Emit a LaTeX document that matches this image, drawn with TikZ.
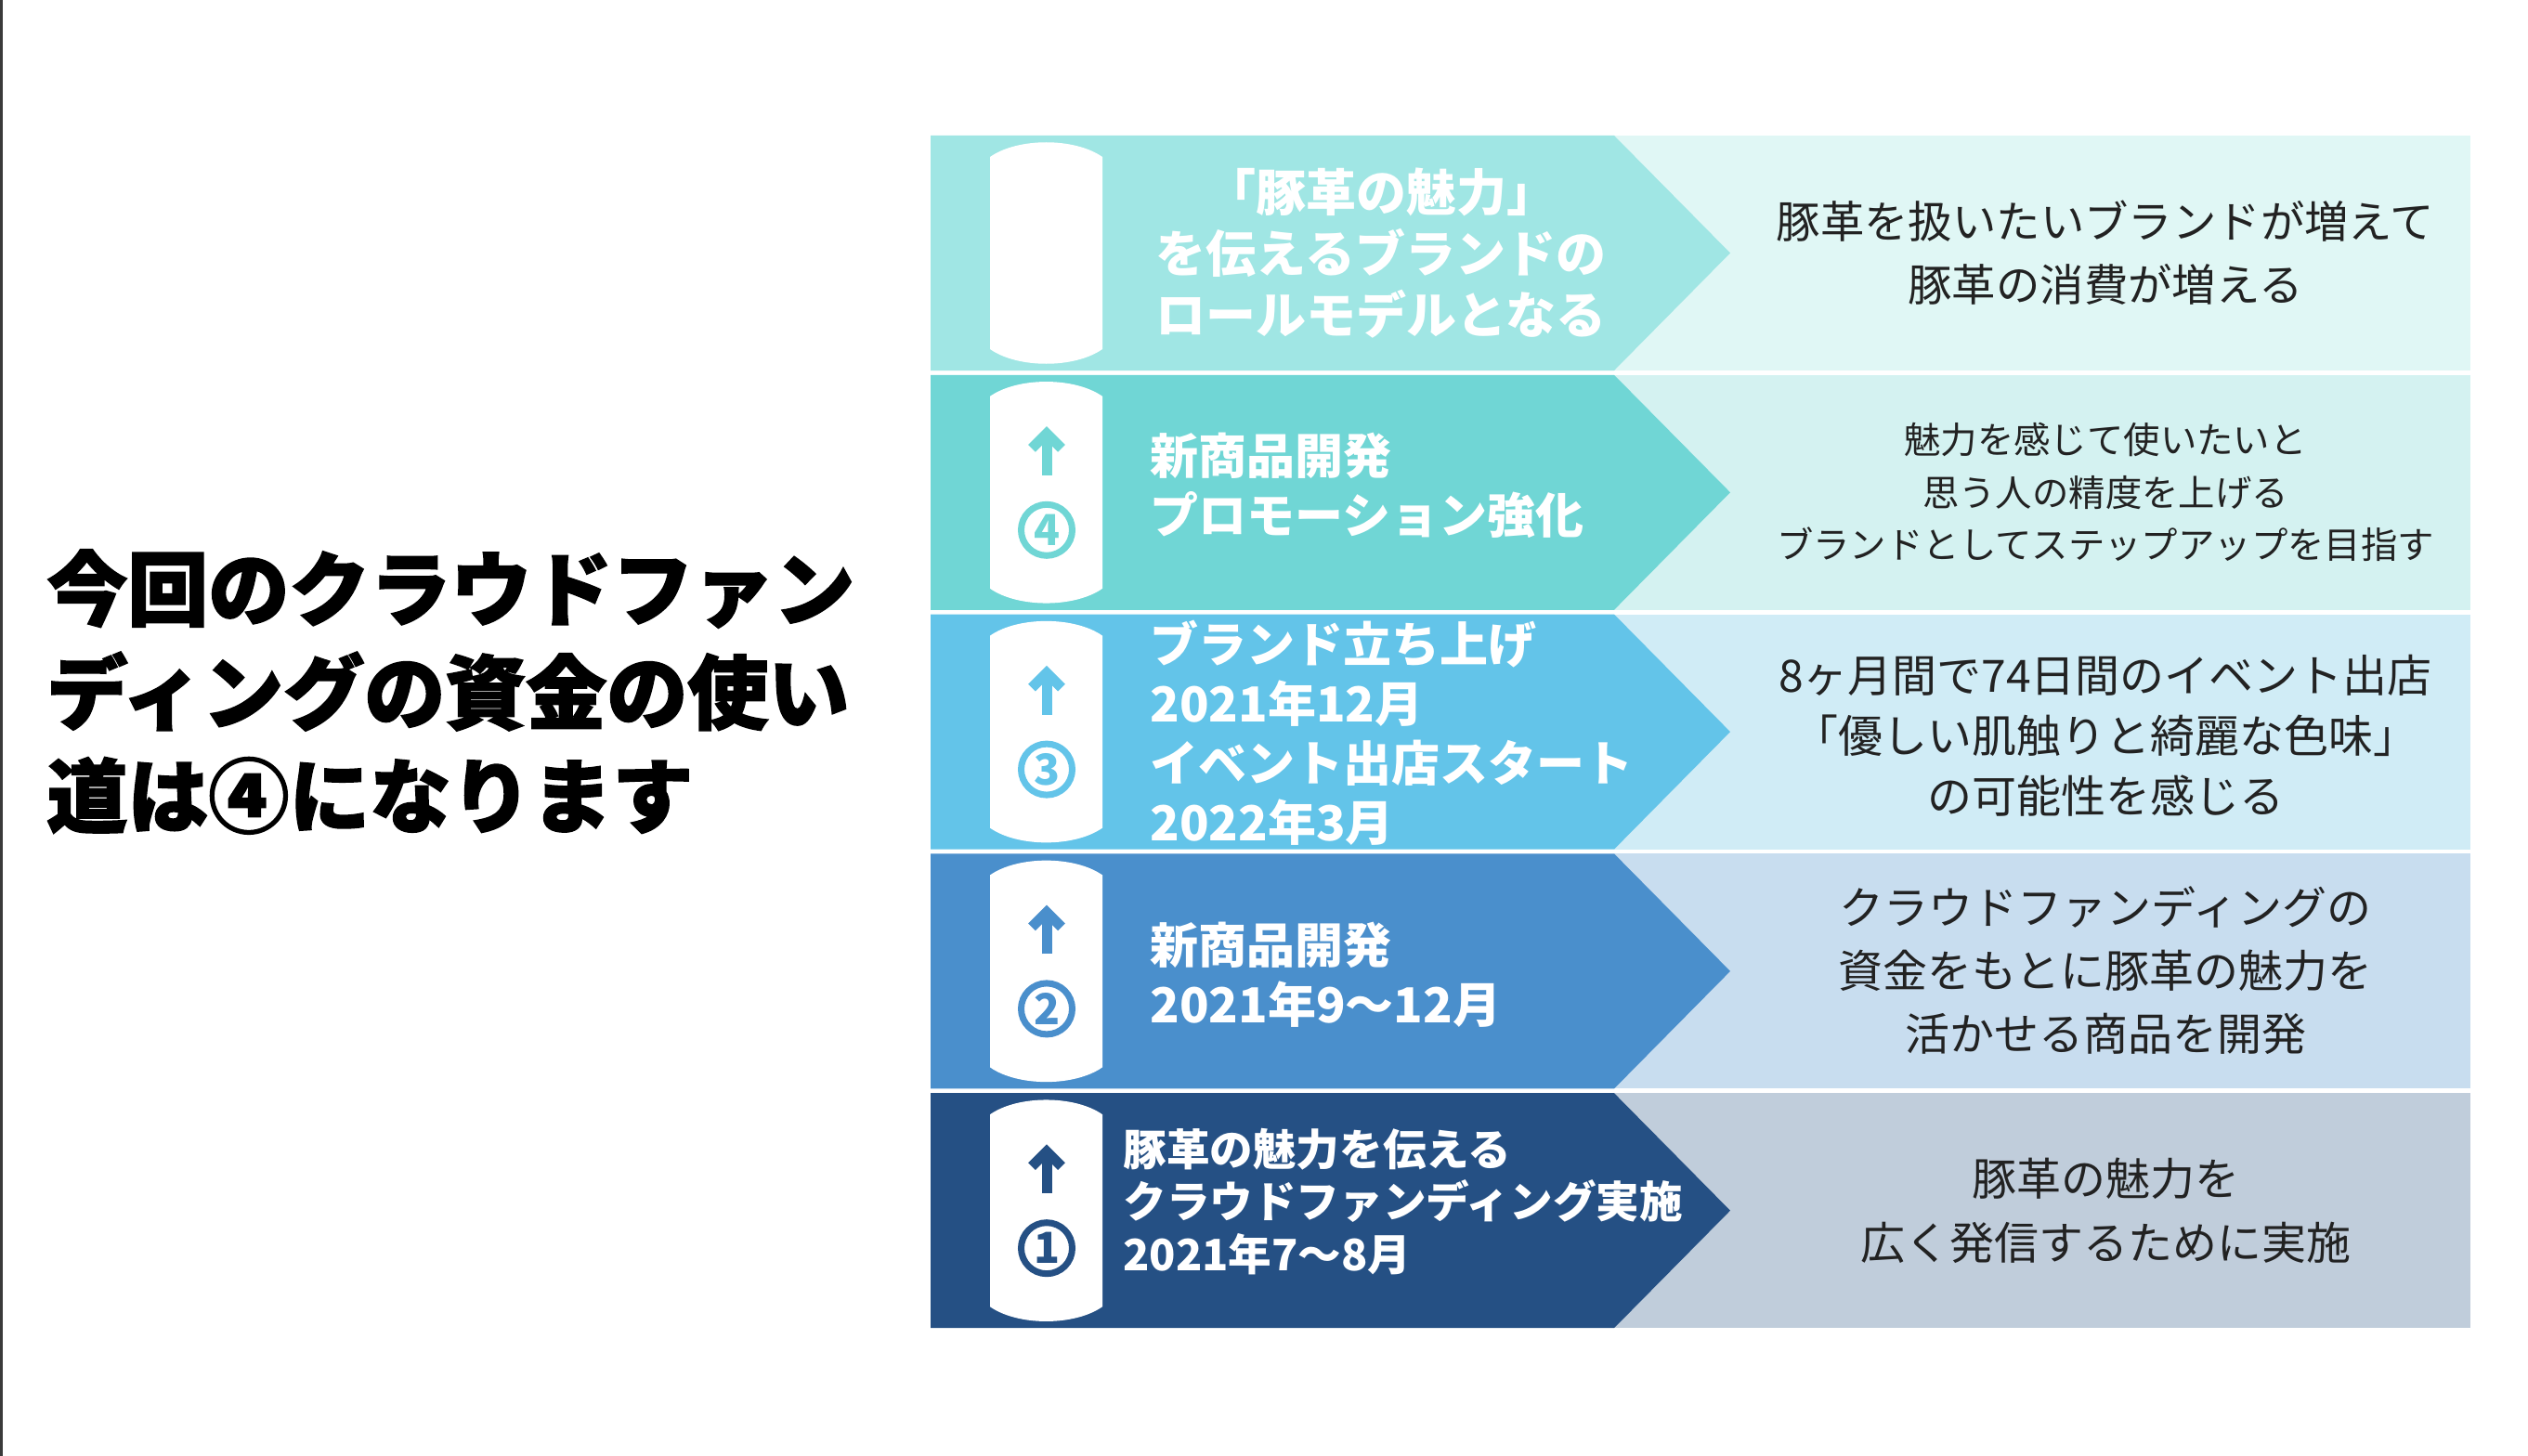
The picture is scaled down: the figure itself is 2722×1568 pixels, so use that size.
\documentclass[tikz,border=0pt]{standalone}
\usepackage{fontspec}
\setmainfont{Noto Sans CJK JP}
\newfontfamily\jp{Noto Sans CJK JP}
\newfontfamily\jpheavy{Noto Sans CJK JP}[BoldFeatures={FakeBold=2}]
\definecolor{mA}{HTML}{A0E6E4}\definecolor{lA}{HTML}{E0F7F5}
\definecolor{mB}{HTML}{70D6D5}\definecolor{lB}{HTML}{D4F2F1}
\definecolor{mC}{HTML}{63C4E9}\definecolor{lC}{HTML}{D0ECF6}
\definecolor{mD}{HTML}{4A8FCC}\definecolor{lD}{HTML}{C8DDEF}
\definecolor{mE}{HTML}{255084}\definecolor{lE}{HTML}{C0CDDB}
\definecolor{txt}{HTML}{222222}
\definecolor{edge}{HTML}{3A3A3A}
\tikzset{
  wtxt/.style={text=white, inner sep=0pt, font=\jp\bfseries\fontsize{26}{32}\selectfont},
  rtxt/.style={text=txt, inner sep=0pt, align=center},
}
\begin{document}
\begin{tikzpicture}[x=0.5pt,y=-0.5pt]
\fill[white] (0,0) rectangle (2722,1568);
\fill[edge] (0,0) rectangle (3,1568);
\useasboundingbox (0,0) rectangle (2722,1568);
\foreach \k/\m/\l in {0/mA/lA,1/mB/lB,2/mC/lC,3/mD/lD,4/mE/lE}{
  \pgfmathsetmacro\t{146+257.8*\k}
  \pgfmathsetmacro\b{\t+253}
  \pgfmathsetmacro\c{\t+126.5}
  \fill[\l] (1738,\t) rectangle (2660,\b);
  \fill[\m] (1002,\t) -- (1738,\t) -- (1863,\c) -- (1738,\b) -- (1002,\b) -- cycle;
  \fill[white] (1066,\t+23) .. controls (1096,\t+2) and (1157,\t+2) .. (1187,\t+23)
     -- (1187,\b-23) .. controls (1157,\b-2) and (1096,\b-2) .. (1066,\b-23) -- cycle;
}
\foreach \k/\m/\n in {1/mB/4,2/mC/3,3/mD/2,4/mE/1}{
  \pgfmathsetmacro\t{146+257.8*\k}
  \coordinate (ab\n) at (1127,\t+108);
  \coordinate (at\n) at (1127,\t+64);
  \draw[\m, line width=5.5pt] (ab\n) -- (at\n);
  \draw[\m, line width=5.5pt, line join=miter] (1111,\t+79) -- (1127,\t+63) -- (1143,\t+79);
  \node[circle, draw=\m, line width=3.5pt, minimum size=27.5pt, inner sep=0pt, text=\m,
        font=\jp\bfseries\fontsize{23}{23}\selectfont] (num\n) at (1127,\t+167) {\n};
}
% title
\node[anchor=west, inner sep=0pt, align=left,
      font=\jpheavy\bfseries\fontsize{43.5}{55.75}\selectfont] (title) at (50,745)
  {今回のクラウドファン\\ディングの資金の使い\\道は④になります};
% white texts
\node[wtxt, align=center, font=\jp\bfseries\fontsize{27}{33}\selectfont] (w1) at (1487,273)
  {「豚革の魅力」\\を伝えるブランドの\\ロールモデルとなる};
\node[wtxt, align=left, anchor=west] (w2) at (1238,523) {新商品開発\\プロモーション強化};
\node[wtxt, align=left, anchor=west] (w3) at (1238,789) {ブランド立ち上げ\\2021年12月\\イベント出店スタート\\2022年3月};
\node[wtxt, align=left, anchor=west] (w4) at (1238,1050) {新商品開発\\2021年9〜12月};
\node[wtxt, align=left, anchor=west, font=\jp\bfseries\fontsize{23.3}{28.25}\selectfont] (w5) at (1209,1294)
  {豚革の魅力を伝える\\クラウドファンディング実施\\2021年7〜8月};
% right texts
\node[rtxt, font=\jp\fontsize{23.7}{34}\selectfont] (r1) at (2267,272)
  {豚革を扱いたいブランドが増えて\\豚革の消費が増える};
\node[rtxt, font=\jp\fontsize{19.7}{28.25}\selectfont] (r2) at (2267,530)
  {魅力を感じて使いたいと\\思う人の精度を上げる\\ブランドとしてステップアップを目指す};
\node[rtxt, font=\jp\fontsize{24}{32.5}\selectfont] (r3) at (2267,792)
  {8ヶ月間で74日間のイベント出店\\「優しい肌触りと綺麗な色味」\\の可能性を感じる};
\node[rtxt, font=\jp\fontsize{24}{34}\selectfont] (r4) at (2267,1045)
  {クラウドファンディングの\\資金をもとに豚革の魅力を\\活かせる商品を開発};
\node[rtxt, font=\jp\fontsize{24}{34.5}\selectfont] (r5) at (2267,1304)
  {豚革の魅力を\\広く発信するために実施};
\end{tikzpicture}
\end{document}
